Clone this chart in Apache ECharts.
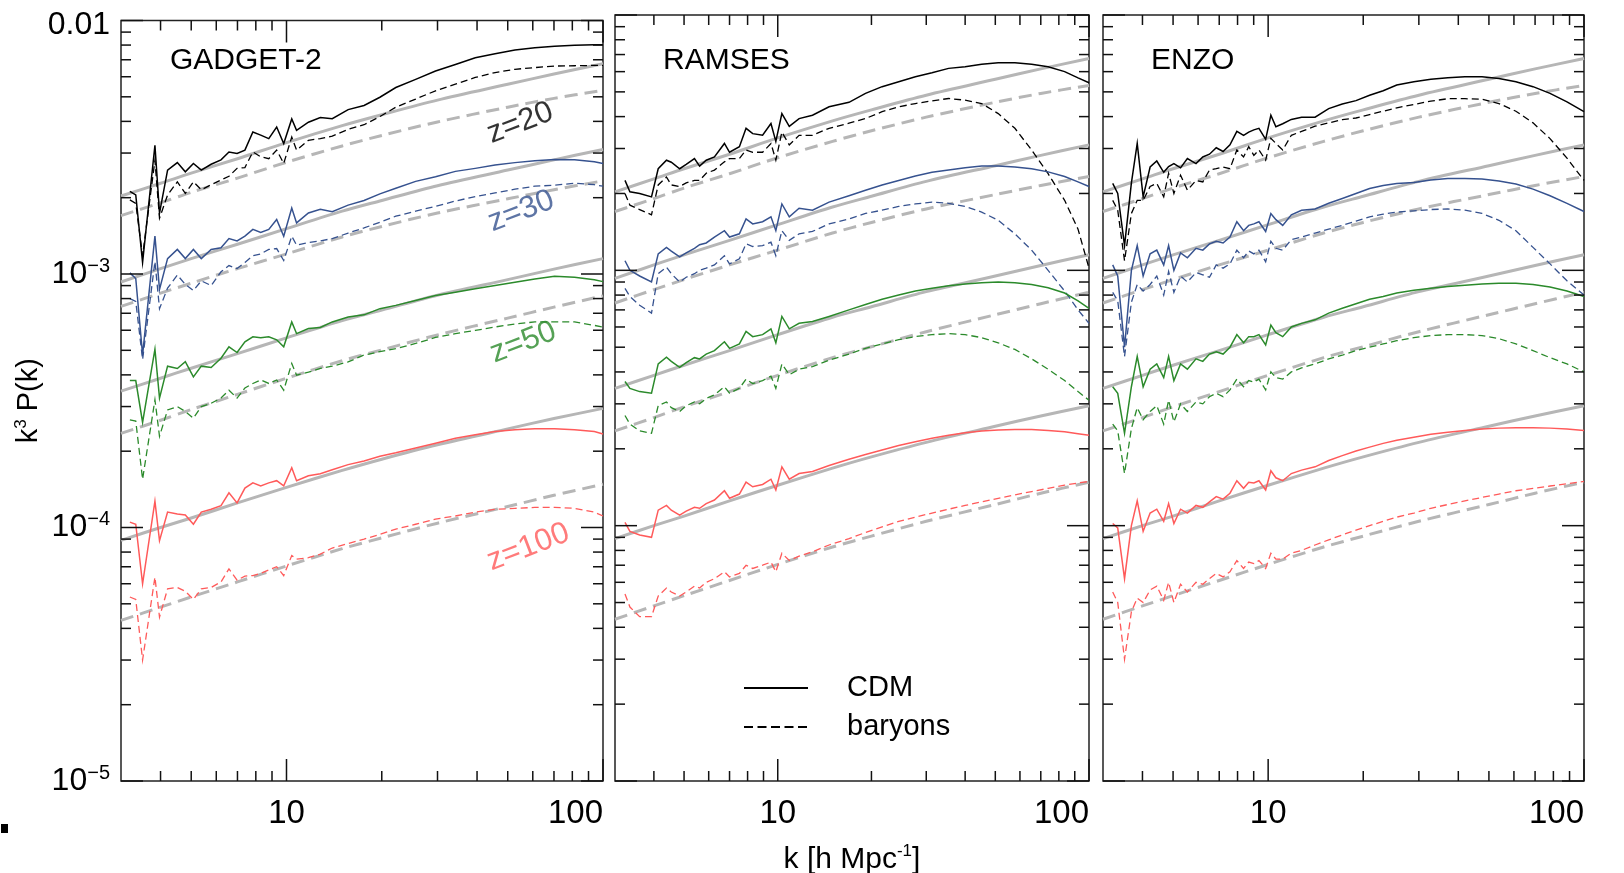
<!DOCTYPE html>
<html><head><meta charset="utf-8">
<script src="https://cdn.jsdelivr.net/npm/echarts@6.0.0/dist/echarts.min.js"></script>
<style>html,body{margin:0;padding:0;background:#fff}#c{width:1624px;height:873px}</style>
</head><body><div id="c"></div>
<script>
// ---------------- DATA ----------------
const X_MIN = 3, X_MAX = 100, Y_MIN = 1e-5, Y_MAX = 1e-2;
const X_TICKS_MAJOR = [10, 100];
const X_TICKS_MINOR = [4, 5, 6, 7, 8, 9, 20, 30, 40, 50, 60, 70, 80, 90];
const Y_TICKS_MAJOR = [1e-5, 1e-4, 1e-3, 1e-2];
const Y_TICKS_MINOR = [2e-5, 3e-5, 4e-5, 5e-5, 6e-5, 7e-5, 8e-5, 9e-5,
  2e-4, 3e-4, 4e-4, 5e-4, 6e-4, 7e-4, 8e-4, 9e-4,
  2e-3, 3e-3, 4e-3, 5e-3, 6e-3, 7e-3, 8e-3, 9e-3];
const PANEL_NAMES = ['GADGET-2', 'RAMSES', 'ENZO'];
const Z_NAMES = ['z=20', 'z=30', 'z=50', 'z=100'];
const LEGEND_NAMES = ['CDM', 'baryons'];

// linear theory (grey)
const LIN_K = [3, 4, 5, 7, 10, 15, 20, 30, 50, 70, 100];
const LIN_CDM_Z20 = [2.03e-3, 2.28e-3, 2.5e-3, 2.85e-3, 3.3e-3, 3.85e-3, 4.25e-3, 4.85e-3, 5.6e-3, 6.15e-3, 6.75e-3];
const LIN_CDM_Z30 = [9.3e-4, 1.05e-3, 1.15e-3, 1.31e-3, 1.51e-3, 1.77e-3, 1.95e-3, 2.23e-3, 2.57e-3, 2.82e-3, 3.1e-3];
const LIN_CDM_Z50 = [3.45e-4, 3.88e-4, 4.25e-4, 4.85e-4, 5.6e-4, 6.55e-4, 7.2e-4, 8.25e-4, 9.5e-4, 1.045e-3, 1.15e-3];
const LIN_CDM_Z100 = [8.9e-5, 1.0e-4, 1.09e-4, 1.25e-4, 1.44e-4, 1.68e-4, 1.86e-4, 2.12e-4, 2.45e-4, 2.69e-4, 2.95e-4];
const LIN_BAR_Z20 = [1.70e-3, 1.91e-3, 2.10e-3, 2.39e-3, 2.76e-3, 3.2e-3, 3.52e-3, 3.98e-3, 4.55e-3, 4.93e-3, 5.3e-3];
const LIN_BAR_Z30 = [7.45e-4, 8.4e-4, 9.2e-4, 1.05e-3, 1.2e-3, 1.4e-3, 1.54e-3, 1.74e-3, 1.98e-3, 2.15e-3, 2.33e-3];
const LIN_BAR_Z50 = [2.35e-4, 2.65e-4, 2.92e-4, 3.35e-4, 3.88e-4, 4.55e-4, 5.02e-4, 5.75e-4, 6.7e-4, 7.4e-4, 8.2e-4];
const LIN_BAR_Z100 = [4.3e-5, 4.85e-5, 5.32e-5, 6.1e-5, 7.05e-5, 8.25e-5, 9.1e-5, 1.04e-4, 1.21e-4, 1.34e-4, 1.48e-4];

// GADGET-2
const GADGET_K = [3.2, 3.34, 3.51, 3.84, 3.97, 4.21, 4.52, 4.79, 5.08, 5.38, 5.78, 6.21, 6.58, 6.98, 7.39, 7.83, 8.29, 8.79, 9.31, 9.8, 10.39, 10.76, 11.73, 12.79, 13.95, 15.66, 17.58, 19.73, 22.15, 25.59, 29.57, 34.17, 39.48, 45.6, 52.7, 60.9, 70.3, 81.3, 93.9, 100];
const GADGET_CDM_Z20 = [2.12e-3, 2.05e-3, 1.11e-3, 3.22e-3, 1.74e-3, 2.57e-3, 2.75e-3, 2.53e-3, 2.73e-3, 2.57e-3, 2.71e-3, 2.82e-3, 3.03e-3, 2.99e-3, 3.08e-3, 3.63e-3, 3.53e-3, 3.42e-3, 3.8e-3, 3.27e-3, 4.09e-3, 3.69e-3, 3.97e-3, 4.14e-3, 4.1e-3, 4.45e-3, 4.62e-3, 4.98e-3, 5.44e-3, 5.86e-3, 6.32e-3, 6.71e-3, 7.13e-3, 7.4e-3, 7.65e-3, 7.8e-3, 7.92e-3, 7.98e-3, 8.02e-3, 8.02e-3];
const GADGET_BAR_Z20 = [1.96e-3, 1.9e-3, 1.18e-3, 2.81e-3, 1.66e-3, 2.05e-3, 2.31e-3, 2.08e-3, 2.31e-3, 2.15e-3, 2.25e-3, 2.35e-3, 2.43e-3, 2.61e-3, 2.63e-3, 3.03e-3, 2.9e-3, 2.85e-3, 3.08e-3, 2.73e-3, 3.47e-3, 3.08e-3, 3.37e-3, 3.42e-3, 3.5e-3, 3.72e-3, 3.88e-3, 4.18e-3, 4.55e-3, 4.9e-3, 5.28e-3, 5.61e-3, 5.96e-3, 6.23e-3, 6.42e-3, 6.52e-3, 6.61e-3, 6.63e-3, 6.65e-3, 6.65e-3];
const GADGET_CDM_Z30 = [1.01e-3, 9.6e-4, 4.8e-4, 1.41e-3, 8.7e-4, 1.15e-3, 1.25e-3, 1.15e-3, 1.25e-3, 1.15e-3, 1.25e-3, 1.27e-3, 1.38e-3, 1.35e-3, 1.41e-3, 1.5e-3, 1.46e-3, 1.5e-3, 1.64e-3, 1.41e-3, 1.82e-3, 1.59e-3, 1.74e-3, 1.8e-3, 1.76e-3, 1.87e-3, 1.95e-3, 2.07e-3, 2.18e-3, 2.32e-3, 2.42e-3, 2.54e-3, 2.61e-3, 2.69e-3, 2.75e-3, 2.8e-3, 2.83e-3, 2.82e-3, 2.77e-3, 2.73e-3];
const GADGET_BAR_Z30 = [8.0e-4, 7.8e-4, 4.6e-4, 1.12e-3, 7.3e-4, 8.8e-4, 9.9e-4, 9.1e-4, 8.6e-4, 9.4e-4, 9.0e-4, 1.02e-3, 1.08e-3, 1.05e-3, 1.11e-3, 1.18e-3, 1.2e-3, 1.25e-3, 1.26e-3, 1.13e-3, 1.41e-3, 1.3e-3, 1.33e-3, 1.35e-3, 1.38e-3, 1.45e-3, 1.52e-3, 1.6e-3, 1.69e-3, 1.77e-3, 1.85e-3, 1.94e-3, 2.02e-3, 2.09e-3, 2.16e-3, 2.22e-3, 2.24e-3, 2.28e-3, 2.25e-3, 2.22e-3];
const GADGET_CDM_Z50 = [3.8e-4, 3.8e-4, 2.6e-4, 5.05e-4, 3.24e-4, 4.33e-4, 4.24e-4, 4.51e-4, 3.93e-4, 4.33e-4, 4.28e-4, 4.65e-4, 5.16e-4, 4.9e-4, 5.4e-4, 5.65e-4, 5.6e-4, 5.65e-4, 5.5e-4, 5.16e-4, 6.47e-4, 5.82e-4, 6.09e-4, 6.15e-4, 6.47e-4, 6.76e-4, 6.9e-4, 7.3e-4, 7.52e-4, 7.86e-4, 8.22e-4, 8.48e-4, 8.75e-4, 9.0e-4, 9.27e-4, 9.55e-4, 9.8e-4, 9.7e-4, 9.5e-4, 9.33e-4];
const GADGET_BAR_Z50 = [2.66e-4, 2.63e-4, 1.55e-4, 3.19e-4, 2.29e-4, 2.91e-4, 3.0e-4, 2.87e-4, 2.7e-4, 3.0e-4, 3.09e-4, 3.24e-4, 3.48e-4, 3.24e-4, 3.55e-4, 3.7e-4, 3.82e-4, 3.7e-4, 3.82e-4, 3.48e-4, 4.44e-4, 3.99e-4, 4.1e-4, 4.24e-4, 4.33e-4, 4.5e-4, 4.79e-4, 4.94e-4, 5.08e-4, 5.32e-4, 5.62e-4, 5.82e-4, 5.99e-4, 6.18e-4, 6.35e-4, 6.47e-4, 6.47e-4, 6.47e-4, 6.27e-4, 6.18e-4];
const GADGET_CDM_Z100 = [1.05e-4, 1.03e-4, 6.0e-5, 1.27e-4, 8.87e-5, 1.15e-4, 1.13e-4, 1.12e-4, 1.03e-4, 1.15e-4, 1.18e-4, 1.22e-4, 1.37e-4, 1.25e-4, 1.43e-4, 1.5e-4, 1.46e-4, 1.5e-4, 1.53e-4, 1.46e-4, 1.72e-4, 1.53e-4, 1.6e-4, 1.63e-4, 1.69e-4, 1.77e-4, 1.83e-4, 1.91e-4, 1.97e-4, 2.06e-4, 2.15e-4, 2.25e-4, 2.32e-4, 2.39e-4, 2.43e-4, 2.45e-4, 2.45e-4, 2.43e-4, 2.39e-4, 2.34e-4];
const GADGET_BAR_Z100 = [5.32e-5, 5.2e-5, 3.0e-5, 6.37e-5, 4.43e-5, 5.73e-5, 5.8e-5, 5.6e-5, 5.2e-5, 5.73e-5, 5.8e-5, 6.1e-5, 6.87e-5, 6.2e-5, 6.43e-5, 6.46e-5, 6.6e-5, 6.8e-5, 7.0e-5, 6.46e-5, 7.75e-5, 7.5e-5, 7.6e-5, 7.85e-5, 8.3e-5, 8.65e-5, 9.0e-5, 9.4e-5, 9.85e-5, 1.03e-4, 1.08e-4, 1.11e-4, 1.15e-4, 1.18e-4, 1.19e-4, 1.2e-4, 1.2e-4, 1.19e-4, 1.15e-4, 1.11e-4];

// RAMSES
const RAMSES_K = [3.23, 3.35, 3.6, 3.93, 4.13, 4.39, 4.55, 4.84, 5.08, 5.4, 5.61, 5.89, 6.26, 6.74, 7.0, 7.53, 7.91, 8.31, 8.94, 9.51, 9.86, 10.31, 10.89, 11.71, 12.93, 14.62, 16.94, 19.14, 21.64, 24.47, 27.68, 31.3, 35.39, 40, 45.2, 51.1, 57.8, 65.4, 73.9, 83.5, 92.2, 100];
const RAMSES_CDM_Z20 = [2.25e-3, 2.03e-3, 2.0e-3, 1.94e-3, 2.5e-3, 2.7e-3, 2.65e-3, 2.5e-3, 2.6e-3, 2.74e-3, 2.56e-3, 2.7e-3, 2.78e-3, 3.14e-3, 2.9e-3, 3.05e-3, 3.6e-3, 3.43e-3, 3.38e-3, 3.76e-3, 3.2e-3, 4.11e-3, 3.66e-3, 3.93e-3, 4.05e-3, 4.37e-3, 4.55e-3, 4.93e-3, 5.24e-3, 5.48e-3, 5.73e-3, 5.94e-3, 6.18e-3, 6.27e-3, 6.42e-3, 6.5e-3, 6.5e-3, 6.42e-3, 6.27e-3, 6.0e-3, 5.67e-3, 5.43e-3];
const RAMSES_BAR_Z20 = [2.0e-3, 1.8e-3, 1.73e-3, 1.65e-3, 2.16e-3, 2.32e-3, 2.16e-3, 2.13e-3, 2.2e-3, 2.25e-3, 2.25e-3, 2.4e-3, 2.47e-3, 2.66e-3, 2.74e-3, 2.74e-3, 2.96e-3, 2.9e-3, 2.9e-3, 3.14e-3, 2.7e-3, 3.48e-3, 3.1e-3, 3.38e-3, 3.38e-3, 3.6e-3, 3.77e-3, 3.93e-3, 4.18e-3, 4.37e-3, 4.5e-3, 4.61e-3, 4.71e-3, 4.64e-3, 4.5e-3, 4.11e-3, 3.6e-3, 2.96e-3, 2.39e-3, 1.88e-3, 1.45e-3, 1.02e-3];
const RAMSES_CDM_Z30 = [1.09e-3, 1.0e-3, 9.5e-4, 9.0e-4, 1.16e-3, 1.23e-3, 1.19e-3, 1.13e-3, 1.17e-3, 1.22e-3, 1.26e-3, 1.28e-3, 1.35e-3, 1.43e-3, 1.35e-3, 1.39e-3, 1.59e-3, 1.52e-3, 1.55e-3, 1.62e-3, 1.43e-3, 1.82e-3, 1.62e-3, 1.75e-3, 1.72e-3, 1.85e-3, 1.96e-3, 2.06e-3, 2.16e-3, 2.25e-3, 2.34e-3, 2.42e-3, 2.47e-3, 2.52e-3, 2.56e-3, 2.56e-3, 2.54e-3, 2.5e-3, 2.43e-3, 2.33e-3, 2.22e-3, 2.13e-3];
const RAMSES_BAR_Z30 = [8.5e-4, 7.9e-4, 7.3e-4, 6.8e-4, 9.7e-4, 1.03e-3, 9.7e-4, 9.0e-4, 9.4e-4, 9.7e-4, 1.0e-3, 1.02e-3, 1.05e-3, 1.14e-3, 1.06e-3, 1.11e-3, 1.27e-3, 1.24e-3, 1.25e-3, 1.29e-3, 1.14e-3, 1.43e-3, 1.31e-3, 1.39e-3, 1.42e-3, 1.52e-3, 1.59e-3, 1.67e-3, 1.72e-3, 1.78e-3, 1.82e-3, 1.85e-3, 1.83e-3, 1.78e-3, 1.69e-3, 1.57e-3, 1.39e-3, 1.2e-3, 1.0e-3, 8.3e-4, 7.0e-4, 6.2e-4];
const RAMSES_CDM_Z50 = [3.67e-4, 3.45e-4, 3.35e-4, 3.3e-4, 4.3e-4, 4.57e-4, 4.4e-4, 4.17e-4, 4.35e-4, 4.55e-4, 4.5e-4, 4.7e-4, 4.85e-4, 5.25e-4, 4.95e-4, 5.15e-4, 5.76e-4, 5.5e-4, 5.6e-4, 5.9e-4, 5.2e-4, 6.6e-4, 5.9e-4, 6.2e-4, 6.3e-4, 6.6e-4, 7.0e-4, 7.35e-4, 7.7e-4, 8.0e-4, 8.3e-4, 8.5e-4, 8.7e-4, 8.85e-4, 8.95e-4, 9.0e-4, 8.95e-4, 8.8e-4, 8.55e-4, 8.15e-4, 7.6e-4, 7.1e-4];
const RAMSES_BAR_Z50 = [2.7e-4, 2.5e-4, 2.35e-4, 2.3e-4, 2.95e-4, 3.05e-4, 2.9e-4, 2.8e-4, 2.95e-4, 3.05e-4, 3.0e-4, 3.15e-4, 3.25e-4, 3.5e-4, 3.3e-4, 3.45e-4, 3.75e-4, 3.6e-4, 3.7e-4, 3.85e-4, 3.45e-4, 4.3e-4, 3.9e-4, 4.1e-4, 4.2e-4, 4.45e-4, 4.7e-4, 4.95e-4, 5.15e-4, 5.35e-4, 5.5e-4, 5.6e-4, 5.65e-4, 5.6e-4, 5.45e-4, 5.2e-4, 4.9e-4, 4.5e-4, 4.1e-4, 3.7e-4, 3.35e-4, 3.1e-4];
const RAMSES_CDM_Z100 = [1.03e-4, 9.5e-5, 9.2e-5, 9.0e-5, 1.15e-4, 1.2e-4, 1.15e-4, 1.1e-4, 1.14e-4, 1.18e-4, 1.17e-4, 1.22e-4, 1.26e-4, 1.37e-4, 1.28e-4, 1.33e-4, 1.48e-4, 1.42e-4, 1.45e-4, 1.52e-4, 1.38e-4, 1.7e-4, 1.52e-4, 1.6e-4, 1.63e-4, 1.72e-4, 1.82e-4, 1.9e-4, 1.98e-4, 2.06e-4, 2.13e-4, 2.2e-4, 2.26e-4, 2.31e-4, 2.35e-4, 2.37e-4, 2.38e-4, 2.38e-4, 2.36e-4, 2.33e-4, 2.29e-4, 2.26e-4];
const RAMSES_BAR_Z100 = [5.4e-5, 4.8e-5, 4.4e-5, 4.4e-5, 5.3e-5, 5.7e-5, 5.5e-5, 5.3e-5, 5.5e-5, 5.8e-5, 5.7e-5, 6.0e-5, 6.2e-5, 6.6e-5, 6.3e-5, 6.5e-5, 7.0e-5, 6.8e-5, 7.0e-5, 7.2e-5, 6.6e-5, 7.8e-5, 7.3e-5, 7.6e-5, 7.9e-5, 8.4e-5, 8.9e-5, 9.4e-5, 9.9e-5, 1.04e-4, 1.08e-4, 1.12e-4, 1.16e-4, 1.2e-4, 1.24e-4, 1.28e-4, 1.32e-4, 1.36e-4, 1.4e-4, 1.44e-4, 1.47e-4, 1.49e-4];

// ENZO
const ENZO_K = [3.22, 3.34, 3.51, 3.69, 3.85, 4.02, 4.23, 4.44, 4.67, 4.84, 5.03, 5.28, 5.55, 5.91, 6.21, 6.52, 6.85, 7.2, 7.57, 7.96, 8.36, 8.68, 9.01, 9.35, 9.82, 10.2, 10.58, 11.12, 11.84, 12.76, 14.08, 15.55, 17.17, 18.97, 20.95, 23.13, 25.54, 28.93, 32.74, 37.06, 41.98, 47.53, 53.79, 60.87, 68.96, 78.06, 88.33, 100];
const ENZO_CDM_Z20 = [2.19e-3, 2.0e-3, 1.25e-3, 2.2e-3, 3.14e-3, 1.94e-3, 2.54e-3, 2.68e-3, 2.42e-3, 2.55e-3, 2.62e-3, 2.52e-3, 2.74e-3, 2.62e-3, 2.78e-3, 2.85e-3, 3.02e-3, 2.92e-3, 3.1e-3, 3.5e-3, 3.38e-3, 3.48e-3, 3.55e-3, 3.6e-3, 3.26e-3, 4.05e-3, 3.65e-3, 3.75e-3, 3.9e-3, 3.98e-3, 3.98e-3, 4.3e-3, 4.48e-3, 4.62e-3, 4.85e-3, 5.05e-3, 5.32e-3, 5.48e-3, 5.6e-3, 5.68e-3, 5.73e-3, 5.73e-3, 5.64e-3, 5.48e-3, 5.24e-3, 4.93e-3, 4.57e-3, 4.18e-3];
const ENZO_BAR_Z20 = [1.88e-3, 1.72e-3, 1.09e-3, 1.67e-3, 1.88e-3, 1.88e-3, 2.13e-3, 2.19e-3, 1.94e-3, 2.4e-3, 2.0e-3, 2.36e-3, 2.06e-3, 2.25e-3, 2.22e-3, 2.47e-3, 2.5e-3, 2.54e-3, 2.5e-3, 2.96e-3, 2.78e-3, 3.05e-3, 2.82e-3, 2.96e-3, 2.7e-3, 3.29e-3, 3.14e-3, 2.96e-3, 3.38e-3, 3.5e-3, 3.67e-3, 3.78e-3, 3.89e-3, 3.95e-3, 4.07e-3, 4.2e-3, 4.33e-3, 4.46e-3, 4.6e-3, 4.7e-3, 4.7e-3, 4.68e-3, 4.5e-3, 4.2e-3, 3.78e-3, 3.28e-3, 2.75e-3, 2.25e-3];
const ENZO_CDM_Z30 = [1.05e-3, 9.5e-4, 5.0e-4, 1.0e-3, 1.25e-3, 9.5e-4, 1.16e-3, 1.2e-3, 1.05e-3, 1.25e-3, 1.0e-3, 1.17e-3, 1.12e-3, 1.22e-3, 1.2e-3, 1.27e-3, 1.3e-3, 1.28e-3, 1.35e-3, 1.55e-3, 1.43e-3, 1.5e-3, 1.52e-3, 1.55e-3, 1.42e-3, 1.67e-3, 1.58e-3, 1.5e-3, 1.65e-3, 1.72e-3, 1.74e-3, 1.83e-3, 1.91e-3, 2.0e-3, 2.09e-3, 2.15e-3, 2.19e-3, 2.21e-3, 2.26e-3, 2.29e-3, 2.29e-3, 2.28e-3, 2.24e-3, 2.18e-3, 2.08e-3, 1.96e-3, 1.83e-3, 1.7e-3];
const ENZO_BAR_Z30 = [8.2e-4, 7.6e-4, 4.6e-4, 7.5e-4, 8.8e-4, 8.3e-4, 8.8e-4, 9.5e-4, 8.0e-4, 9.9e-4, 8.2e-4, 9.5e-4, 9.0e-4, 9.8e-4, 9.6e-4, 9.4e-4, 1.05e-3, 1.02e-3, 1.06e-3, 1.2e-3, 1.12e-3, 1.19e-3, 1.16e-3, 1.2e-3, 1.08e-3, 1.3e-3, 1.22e-3, 1.2e-3, 1.32e-3, 1.35e-3, 1.4e-3, 1.45e-3, 1.5e-3, 1.56e-3, 1.62e-3, 1.66e-3, 1.69e-3, 1.71e-3, 1.73e-3, 1.74e-3, 1.72e-3, 1.67e-3, 1.57e-3, 1.43e-3, 1.23e-3, 1.06e-3, 9.1e-4, 8.0e-4];
const ENZO_CDM_Z50 = [3.5e-4, 3.3e-4, 2.3e-4, 3.5e-4, 4.6e-4, 3.5e-4, 4.1e-4, 4.3e-4, 3.8e-4, 4.6e-4, 3.7e-4, 4.3e-4, 4.1e-4, 4.5e-4, 4.4e-4, 4.7e-4, 4.8e-4, 4.7e-4, 5.0e-4, 5.6e-4, 5.2e-4, 5.5e-4, 5.5e-4, 5.6e-4, 5.1e-4, 6.1e-4, 5.7e-4, 5.5e-4, 6.0e-4, 6.2e-4, 6.4e-4, 6.8e-4, 7.1e-4, 7.4e-4, 7.7e-4, 7.9e-4, 8.15e-4, 8.35e-4, 8.5e-4, 8.65e-4, 8.75e-4, 8.85e-4, 8.9e-4, 8.9e-4, 8.8e-4, 8.6e-4, 8.3e-4, 7.9e-4];
const ENZO_BAR_Z50 = [2.5e-4, 2.35e-4, 1.6e-4, 2.4e-4, 2.9e-4, 2.6e-4, 2.8e-4, 2.95e-4, 2.5e-4, 3.1e-4, 2.55e-4, 3.0e-4, 2.8e-4, 3.05e-4, 3.0e-4, 3.2e-4, 3.3e-4, 3.2e-4, 3.4e-4, 3.75e-4, 3.5e-4, 3.7e-4, 3.65e-4, 3.75e-4, 3.4e-4, 4.0e-4, 3.8e-4, 3.75e-4, 4.0e-4, 4.15e-4, 4.3e-4, 4.5e-4, 4.65e-4, 4.85e-4, 5.0e-4, 5.15e-4, 5.3e-4, 5.45e-4, 5.55e-4, 5.6e-4, 5.6e-4, 5.55e-4, 5.4e-4, 5.15e-4, 4.85e-4, 4.55e-4, 4.3e-4, 4.0e-4];
const ENZO_CDM_Z100 = [1.02e-4, 9.8e-5, 6.2e-5, 1.0e-4, 1.25e-4, 9.5e-5, 1.12e-4, 1.16e-4, 1.04e-4, 1.22e-4, 1.02e-4, 1.16e-4, 1.12e-4, 1.2e-4, 1.18e-4, 1.24e-4, 1.3e-4, 1.27e-4, 1.34e-4, 1.5e-4, 1.4e-4, 1.48e-4, 1.47e-4, 1.5e-4, 1.38e-4, 1.64e-4, 1.54e-4, 1.5e-4, 1.6e-4, 1.65e-4, 1.7e-4, 1.8e-4, 1.88e-4, 1.96e-4, 2.03e-4, 2.1e-4, 2.16e-4, 2.22e-4, 2.28e-4, 2.32e-4, 2.36e-4, 2.39e-4, 2.41e-4, 2.42e-4, 2.42e-4, 2.41e-4, 2.39e-4, 2.36e-4];
const ENZO_BAR_Z100 = [5.5e-5, 5.0e-5, 3.0e-5, 4.6e-5, 5.2e-5, 5.0e-5, 5.6e-5, 5.8e-5, 5.1e-5, 6.0e-5, 5.0e-5, 5.9e-5, 5.5e-5, 6.0e-5, 5.9e-5, 6.2e-5, 6.5e-5, 6.3e-5, 6.6e-5, 7.3e-5, 6.8e-5, 7.2e-5, 7.1e-5, 7.3e-5, 6.8e-5, 7.8e-5, 7.4e-5, 7.4e-5, 7.8e-5, 8.0e-5, 8.4e-5, 8.8e-5, 9.2e-5, 9.6e-5, 1.0e-4, 1.04e-4, 1.08e-4, 1.12e-4, 1.17e-4, 1.21e-4, 1.25e-4, 1.29e-4, 1.33e-4, 1.37e-4, 1.4e-4, 1.43e-4, 1.46e-4, 1.49e-4];

// ---------------- CHART BUILD ----------------
const FONT = '"Liberation Sans", Arial, Helvetica, sans-serif';
const Z_COLORS = ['#000000', '#36528f', '#2b8a2b', '#ff5a5a'];
const GRAY = '#b6b6b6';
const GRID_BOX = [
  { left: 121, top: 15, width: 482, height: 766 },
  { left: 615, top: 15, width: 474, height: 766 },
  { left: 1103, top: 15, width: 481, height: 766 }
];
const PANEL_TITLE_POS = [[170, 46], [663, 46], [1151, 46]];
const XNAME_POS = [852, 843];
const TICK_MAJOR_LEN = 22, TICK_MINOR_LEN = 10;

const LIN_CDM = [LIN_CDM_Z20, LIN_CDM_Z30, LIN_CDM_Z50, LIN_CDM_Z100];
const LIN_BAR = [LIN_BAR_Z20, LIN_BAR_Z30, LIN_BAR_Z50, LIN_BAR_Z100];
const PANELS = [
  { k: GADGET_K, cdm: [GADGET_CDM_Z20, GADGET_CDM_Z30, GADGET_CDM_Z50, GADGET_CDM_Z100], bar: [GADGET_BAR_Z20, GADGET_BAR_Z30, GADGET_BAR_Z50, GADGET_BAR_Z100] },
  { k: RAMSES_K, cdm: [RAMSES_CDM_Z20, RAMSES_CDM_Z30, RAMSES_CDM_Z50, RAMSES_CDM_Z100], bar: [RAMSES_BAR_Z20, RAMSES_BAR_Z30, RAMSES_BAR_Z50, RAMSES_BAR_Z100] },
  { k: ENZO_K, cdm: [ENZO_CDM_Z20, ENZO_CDM_Z30, ENZO_CDM_Z50, ENZO_CDM_Z100], bar: [ENZO_BAR_Z20, ENZO_BAR_Z30, ENZO_BAR_Z50, ENZO_BAR_Z100] }
];

function pairs(ks, vs) { return ks.map((k, i) => [k, vs[i]]); }
function lineSeries(name, gi, data, color, width, type, z, smooth) {
  return {
    name, type: 'line', xAxisIndex: gi, yAxisIndex: gi, data,
    symbol: 'none', showSymbol: false, silent: true, animation: false, z,
    smooth: smooth || false,
    lineStyle: { color, width, type, cap: 'butt', join: 'miter' },
    itemStyle: { color }, emphasis: { disabled: true }
  };
}

function tickSeries(gi) {
  return {
    type: 'custom', xAxisIndex: gi, yAxisIndex: gi, silent: true, z: 20, animation: false,
    clip: false, data: [[X_MIN, Y_MIN]],
    renderItem: function (params, api) {
      const cs = params.coordSys;
      const L = cs.x, R = cs.x + cs.width, T = cs.y, B = cs.y + cs.height;
      const kids = [];
      const st = { stroke: '#111', lineWidth: 1.5 };
      const add = (x1, y1, x2, y2) => kids.push({ type: 'line', shape: { x1, y1, x2, y2 }, style: st });
      const xt = (v, len) => { const p = api.coord([v, Y_MIN])[0]; add(p, B, p, B - len); add(p, T, p, T + len); };
      const yt = (v, len) => { const p = api.coord([X_MIN, v])[1]; add(L, p, L + len, p); add(R, p, R - len, p); };
      X_TICKS_MAJOR.forEach(v => xt(v, TICK_MAJOR_LEN));
      X_TICKS_MINOR.forEach(v => xt(v, TICK_MINOR_LEN));
      Y_TICKS_MAJOR.forEach(v => yt(v, TICK_MAJOR_LEN));
      Y_TICKS_MINOR.forEach(v => yt(v, TICK_MINOR_LEN));
      return { type: 'group', children: kids };
    }
  };
}

const series = [];
PANELS.forEach((p, gi) => {
  for (let zi = 0; zi < 4; zi++) {
    series.push(lineSeries('lin_cdm_' + gi + '_' + zi, gi, pairs(LIN_K, LIN_CDM[zi]), GRAY, 3, 'solid', 1, 0.3));
    series.push(lineSeries('lin_bar_' + gi + '_' + zi, gi, pairs(LIN_K, LIN_BAR[zi]), GRAY, 3, [13, 7], 1, 0.3));
  }
  for (let zi = 0; zi < 4; zi++) {
    series.push(lineSeries('cdm_' + gi + '_' + zi, gi, pairs(p.k, p.cdm[zi]), Z_COLORS[zi], 1.5, 'solid', 3));
    series.push(lineSeries('bar_' + gi + '_' + zi, gi, pairs(p.k, p.bar[zi]), Z_COLORS[zi], 1.3, [7, 4], 3));
  }
  series.push(tickSeries(gi));
});
// legend-only series
series.push(lineSeries(LEGEND_NAMES[0], 0, [], '#000', 1.6, 'solid', 3));
series.push(lineSeries(LEGEND_NAMES[1], 0, [], '#000', 1.3, [9, 4.5], 3));

// z labels (anchored in data space of the first panel)
const ZLABEL_ANCHORS = [[54.8, 3.94e-3], [55.2, 1.766e-3], [56, 5.36e-4], [58.1, 8.36e-5]];
series.push({
  type: 'scatter', xAxisIndex: 0, yAxisIndex: 0, silent: true, animation: false, z: 5,
  symbolSize: 0,
  data: ZLABEL_ANCHORS.map((a, i) => ({
    value: a, name: Z_NAMES[i],
    label: { show: true, position: 'inside', rotate: 21, formatter: Z_NAMES[i], color: Z_COLORS[i],
      fontSize: 31, fontFamily: FONT }
  }))
});

function isPow10(v) { const l = Math.log10(v); return Math.abs(l - Math.round(l)) < 1e-6; }

const xAxes = GRID_BOX.map((g, gi) => ({
  type: 'log', logBase: 10, gridIndex: gi, min: X_MIN, max: X_MAX,
  axisLine: { show: false }, axisTick: { show: false }, splitLine: { show: false }, minorTick: { show: false },
  axisLabel: {
    show: true, margin: 16, fontSize: 33, color: '#000', fontFamily: FONT,
    showMinLabel: true, showMaxLabel: true, alignMaxLabel: 'right',
    formatter: v => isPow10(v) ? String(Math.round(v)) : ''
  }
}));
const yAxes = GRID_BOX.map((g, gi) => ({
  type: 'log', logBase: 10, gridIndex: gi, min: Y_MIN, max: Y_MAX,
  axisLine: { show: false }, axisTick: { show: false }, splitLine: { show: false }, minorTick: { show: false },
  axisLabel: {
    show: gi === 0, margin: 11, fontSize: 32, lineHeight: 36, color: '#000', fontFamily: FONT,
    showMinLabel: true, showMaxLabel: true,
    formatter: v => {
      const e = Math.round(Math.log10(v));
      if (e === -2) return '{t|0.01}';
      return '{b|10}{s|\u2212' + (-e) + '}';
    },
    rich: {
      t: { fontSize: 32, lineHeight: 36, padding: [9, 0, 0, 0], fontFamily: FONT, color: '#000' },
      b: { fontSize: 32, lineHeight: 36, fontFamily: FONT, color: '#000' },
      s: { fontSize: 20, lineHeight: 26, verticalAlign: 'top', fontFamily: FONT, color: '#000' }
    }
  },
  name: gi === 0 ? '{n|k}{s|3}{n| P(k)}' : '',
  nameLocation: 'middle', nameGap: 70, nameRotate: 90,
  nameTextStyle: {
    color: '#000', fontFamily: FONT, fontSize: 29,
    rich: {
      n: { fontSize: 29, lineHeight: 34, fontFamily: FONT, color: '#000' },
      s: { fontSize: 17, lineHeight: 22, verticalAlign: 'top', fontFamily: FONT, color: '#000' }
    }
  }
}));

const titles = PANEL_NAMES.map((t, i) => ({
  text: t, left: PANEL_TITLE_POS[i][0], top: PANEL_TITLE_POS[i][1], padding: 0,
  textStyle: { fontSize: 30, fontWeight: 'normal', color: '#000', fontFamily: FONT }
}));
// shared x-axis title (k [h Mpc^-1]) under the middle panel
titles.push({
  text: '{n|k [h Mpc}{s|-1}{n|]}', left: XNAME_POS[0], top: XNAME_POS[1], padding: 0, textAlign: 'center',
  textStyle: {
    fontSize: 30, fontWeight: 'normal', color: '#000', fontFamily: FONT,
    rich: {
      n: { fontSize: 30, lineHeight: 34, fontFamily: FONT, color: '#000' },
      s: { fontSize: 17, lineHeight: 22, verticalAlign: 'top', fontFamily: FONT, color: '#000' }
    }
  }
});

const option = {
  backgroundColor: '#ffffff',
  animation: false,
  textStyle: { fontFamily: FONT },
  grid: GRID_BOX.map(g => ({ left: g.left, top: g.top, width: g.width, height: g.height,
    show: true, borderColor: '#222', borderWidth: 1.5, backgroundColor: 'transparent', containLabel: false })),
  title: titles,
  legend: {
    data: LEGEND_NAMES, orient: 'vertical', left: 743, top: 673, padding: 0,
    itemWidth: 64, itemHeight: 14, itemGap: 9, selectedMode: false,
    itemStyle: { opacity: 0 },
    textStyle: { fontSize: 29, lineHeight: 30, color: '#000', fontFamily: FONT, padding: [0, 0, 0, 34] }
  },
  xAxis: xAxes,
  yAxis: yAxes,
  series,
  graphic: [{ type: 'rect', shape: { x: 1, y: 824, width: 7, height: 9 }, style: { fill: '#000' }, silent: true }]
};

const chart = echarts.init(document.getElementById('c'), null, { renderer: 'canvas' });
chart.setOption(option);
</script></body></html>
